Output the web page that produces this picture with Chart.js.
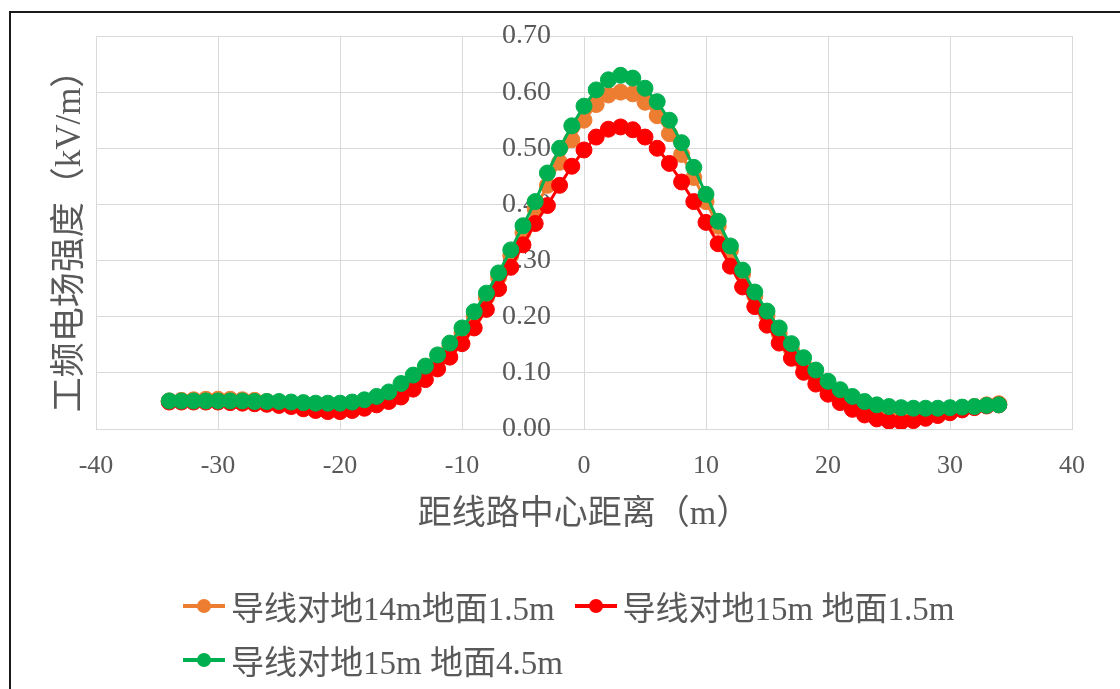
<!DOCTYPE html>
<html>
<head>
<meta charset="utf-8">
<script src="https://cdn.jsdelivr.net/npm/chart.js@4/dist/chart.umd.min.js"></script>
<style>
  body { margin: 0; background: #fff; }
  #wrap { position: relative; width: 1120px; height: 689px; overflow: hidden; }
  #frame { position: absolute; left: 9px; top: 11px; width: 1200px; height: 800px;
           border-left: 2px solid #1a1a1a; border-top: 2px solid #1a1a1a; }
  #chart { position: absolute; left: 0; top: 0; }
  #legend { position: absolute; left: 183px; top: 585px; width: 840px;
            display: flex; flex-wrap: wrap; row-gap: 12px; column-gap: 20px;
            font-family: "Liberation Serif", "Noto Sans CJK SC", serif; font-size: 33px; color: #595959; }
  .item { display: flex; align-items: center; height: 42px; }
  .mark { position: relative; width: 42px; height: 4px; margin-right: 6px; }
  .mark span { position: absolute; left: 14px; top: -5px; width: 14px; height: 14px; border-radius: 50%; }
</style>
</head>
<body>
<div id="wrap">
  <div id="frame"></div>
  <canvas id="chart" width="1120" height="689"></canvas>
  <div id="legend"></div>
</div>
<script>
const distances = [-34,-33,-32,-31,-30,-29,-28,-27,-26,-25,
                   -24,-23,-22,-21,-20,-19,-18,-17,-16,-15,
                   -14,-13,-12,-11,-10,-9,-8,-7,-6,-5,
                   -4,-3,-2,-1,0,1,2,3,4,5,
                   6,7,8,9,10,11,12,13,14,15,
                   16,17,18,19,20,21,22,23,24,25,
                   26,27,28,29,30,31,32,33,34];

// 导线对地14m 地面1.5m
const field14m15 = [0.050,0.051,0.052,0.053,0.053,0.053,0.052,0.051,0.049,0.047,
                    0.045,0.043,0.041,0.040,0.040,0.042,0.046,0.052,0.060,0.071,
                    0.085,0.102,0.122,0.145,0.171,0.201,0.234,0.270,0.309,0.350,
                    0.392,0.434,0.475,0.515,0.550,0.578,0.595,0.600,0.597,0.582,
                    0.558,0.526,0.489,0.448,0.405,0.361,0.318,0.276,0.237,0.202,
                    0.170,0.141,0.115,0.092,0.072,0.055,0.042,0.032,0.025,0.021,
                    0.020,0.021,0.024,0.028,0.032,0.036,0.040,0.043,0.045];

// 导线对地15m 地面1.5m
const field15m15 = [0.048,0.048,0.048,0.048,0.048,0.047,0.046,0.045,0.044,0.042,
                    0.040,0.036,0.033,0.031,0.031,0.033,0.037,0.043,0.049,0.057,
                    0.071,0.088,0.107,0.128,0.152,0.180,0.213,0.250,0.288,0.328,
                    0.366,0.398,0.434,0.468,0.497,0.520,0.534,0.538,0.533,0.520,
                    0.500,0.473,0.440,0.405,0.368,0.330,0.290,0.253,0.218,0.185,
                    0.153,0.126,0.101,0.080,0.062,0.047,0.035,0.025,0.018,0.014,
                    0.013,0.015,0.019,0.024,0.029,0.034,0.038,0.041,0.043];

// 导线对地15m 地面4.5m
const field15m45 = [0.050,0.050,0.050,0.050,0.050,0.050,0.050,0.049,0.049,0.049,
                    0.048,0.047,0.046,0.046,0.046,0.048,0.052,0.058,0.066,0.081,
                    0.096,0.112,0.132,0.153,0.180,0.209,0.242,0.278,0.319,0.362,
                    0.405,0.456,0.500,0.540,0.575,0.604,0.622,0.630,0.625,0.607,
                    0.583,0.550,0.510,0.466,0.418,0.370,0.326,0.283,0.244,0.210,
                    0.180,0.152,0.127,0.105,0.085,0.070,0.058,0.049,0.043,0.040,
                    0.038,0.037,0.037,0.037,0.038,0.039,0.040,0.042,0.043];

const seriesNames = ['导线对地14m地面1.5m', '导线对地15m 地面1.5m', '导线对地15m 地面4.5m'];
const seriesColors = ['#ED7D31', '#FF0000', '#00B050'];
const yTicks = [0, 0.1, 0.2, 0.3, 0.4, 0.5, 0.6, 0.7];
const xTicks = [-40, -30, -20, -10, 0, 10, 20, 30, 40];

const latin = "'Liberation Serif', 'Noto Sans CJK SC', serif";
const gray = '#595959';
const gridColor = '#d9d9d9';

function makeSet(i, values, order) {
    return {
        label: seriesNames[i],
        data: distances.map((d, k) => ({ x: d, y: values[k] })),
        borderColor: seriesColors[i],
        backgroundColor: seriesColors[i],
        pointBackgroundColor: seriesColors[i],
        pointBorderColor: seriesColors[i],
        borderWidth: 3,
        pointRadius: 8,
        pointBorderWidth: 1,
        tension: 0,
        order: order
    };
}

const ctx = document.getElementById('chart').getContext('2d');
const myChart = new Chart(ctx, {
    type: 'line',
    data: {
        datasets: [
            makeSet(0, field14m15, 3),
            makeSet(1, field15m15, 2),
            makeSet(2, field15m45, 1)
        ]
    },
    options: {
        responsive: false,
        animation: false,
        layout: { padding: { left: 46, right: 48, top: 36, bottom: 150 } },
        plugins: { legend: { display: false }, tooltip: { enabled: false } },
        scales: {
            x: {
                type: 'linear',
                min: -40, max: 40,
                afterBuildTicks: s => { s.ticks = xTicks.map(v => ({ value: v })); },
                afterFit: s => { s.height = 110; },
                grid: { color: gridColor, drawTicks: false },
                border: { color: gridColor },
                ticks: { color: gray, padding: 22, font: { family: latin, size: 26 } },
                title: { display: true, text: '距线路中心距离（m）', color: gray,
                         font: { family: latin, size: 34 } }
            },
            y: {
                type: 'linear',
                min: 0, max: 0.7,
                position: { x: -2.7 },
                afterBuildTicks: s => { s.ticks = yTicks.map(v => ({ value: v })); },
                afterFit: s => { s.width = 0; },
                grid: { color: gridColor, drawTicks: false },
                border: { display: false },
                ticks: { color: gray, font: { family: latin, size: 28 },
                         callback: v => v.toFixed(2) }
            },
            yt: {
                type: 'linear',
                position: 'left',
                afterFit: s => { s.width = 50; },
                grid: { display: false },
                border: { display: false },
                ticks: { display: false },
                title: { display: true, text: '工频电场强度（kV/m）', color: gray,
                         font: { family: latin, size: 35 } }
            }
        }
    }
});

// html legend, laid out like the original (left aligned rows)
const legendBox = document.getElementById('legend');
myChart.data.datasets.forEach(ds => {
    const item = document.createElement('div');
    item.className = 'item';
    const mark = document.createElement('div');
    mark.className = 'mark';
    mark.style.background = ds.borderColor;
    const dot = document.createElement('span');
    dot.style.background = ds.borderColor;
    mark.appendChild(dot);
    const txt = document.createElement('span');
    txt.innerText = ds.label;
    item.appendChild(mark);
    item.appendChild(txt);
    legendBox.appendChild(item);
});
</script>
</body>
</html>
